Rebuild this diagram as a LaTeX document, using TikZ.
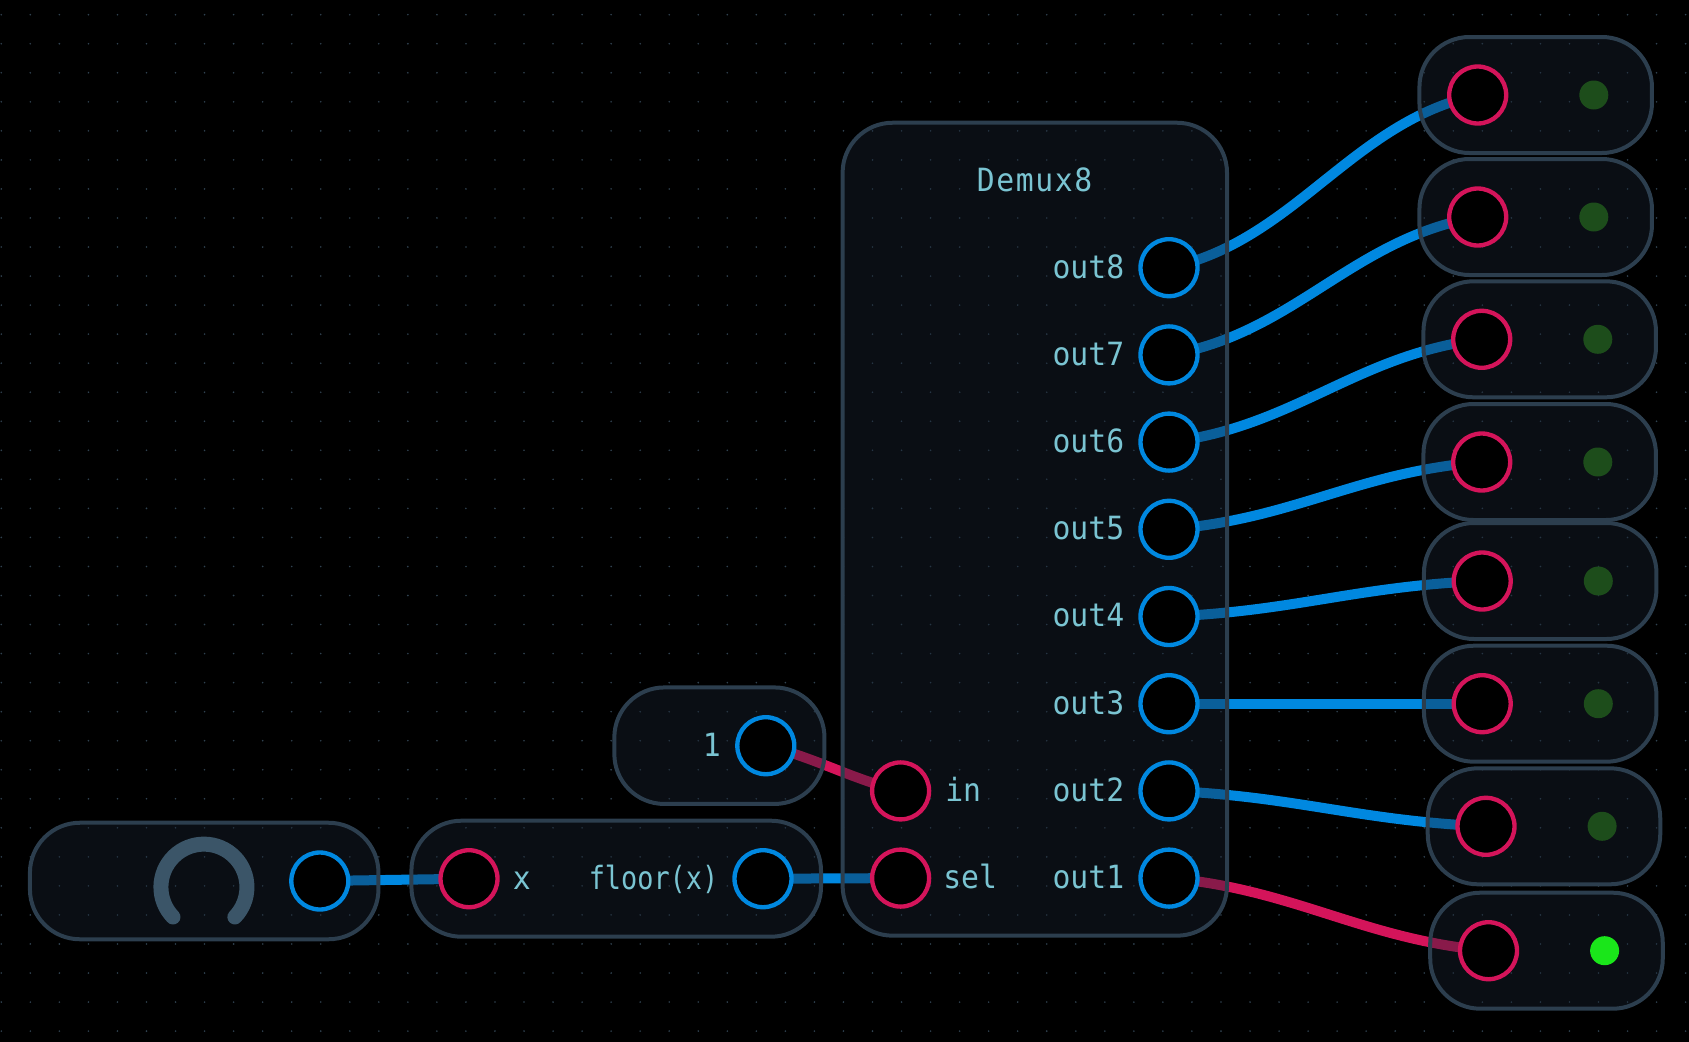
\documentclass[tikz,border=0pt]{standalone}
\usepackage{fontspec}
\newfontfamily\portfont[FakeStretch=0.93]{DejaVu Sans Mono}
\newfontfamily\floorfont[FakeStretch=0.84]{DejaVu Sans Mono}
\newfontfamily\titlefont[FakeStretch=0.93,LetterSpace=5]{DejaVu Sans Mono}
\usetikzlibrary{backgrounds}
\definecolor{boxfill}{RGB}{25,35,50}
\definecolor{boxline}{RGB}{44,62,78}
\definecolor{griddot}{RGB}{48,66,80}
\definecolor{portblue}{RGB}{0,136,224}
\definecolor{portred}{RGB}{212,20,90}
\definecolor{labelcol}{RGB}{122,196,210}
\definecolor{knobcol}{RGB}{59,85,104}
\definecolor{ledoff}{RGB}{29,77,27}
\definecolor{ledon}{RGB}{26,230,26}
\tikzset{
  modbox/.style={draw=boxline,line width=3pt,fill=boxfill,fill opacity=0.4,draw opacity=1,rounded corners=37.5pt,inner sep=0pt},
  ledbox/.style={modbox,minimum width=174.4pt,minimum height=87pt},
  outport/.style={circle,draw=portblue,fill=black,line width=3.25pt,minimum size=42.75pt,inner sep=0pt},
  inport/.style={circle,draw=portred,fill=black,line width=3.25pt,minimum size=42.75pt,inner sep=0pt},
  led/.style={circle,fill=#1,minimum size=21.75pt,inner sep=0pt},
  portlabel/.style={text=labelcol,font=\portfont\fontsize{24pt}{28pt}\selectfont,inner sep=0pt},
  wireblue/.style={draw=portblue,line width=7.5pt},
  wirered/.style={draw=portred,line width=7.5pt}
}
\begin{document}
\begin{tikzpicture}[x=0.75pt,y=0.75pt,yscale=-1,xscale=1]
\useasboundingbox (0,0) rectangle (1689,1042);

%Background and dots
\begin{pgfonlayer}{background}
\fill [black] (0,0) rectangle (1689,1042);
\foreach \i in {0,...,58} \foreach \j in {0,...,35}
  \fill [griddot] ({1.3+29.04*\i},{14.7+29.04*\j}) circle [radius=0.9];
\end{pgfonlayer}

%Knob box
\node [modbox,minimum width=261.4pt,minimum height=87.4pt] (knobbox) at (204.2,881) {};
\draw [knobcol,line width=11.25pt,line cap=round] (173,917) arc [start angle=136,end angle=404,radius=43];
\node [outport] (knobout) at (319.8,881) {};

%Floor box
\node [modbox,minimum width=307.2pt,minimum height=87pt] (floorbox) at (616.2,878.7) {};
\node [inport] (floorin) at (469,878.7) {};
\node [outport] (floorout) at (763,878.7) {};
\node [portlabel,anchor=mid west] (floorx) at (512.5,886.2) {x};
\node [portlabel,font=\floorfont\fontsize{24pt}{28pt}\selectfont,anchor=mid east] (floorname) at (718.5,886.2) {floor(x)};

%Constant box
\node [modbox,minimum width=157.6pt,minimum height=87.4pt] (constbox) at (719.4,745.7) {};
\node [outport] (constout) at (765.8,745.7) {};
\node [portlabel,anchor=mid east] (constval) at (721,753.2) {1};

%Demux box
\node [modbox,minimum width=288.3pt,minimum height=609.7pt] (demuxbox) at (1034.8,529.2) {};
\node [text=labelcol,font=\titlefont\fontsize{24pt}{28pt}\selectfont,inner sep=0pt,anchor=mid] (demuxname) at (1034.5,188.2) {Demux8};
\node [inport] (demuxin) at (900.6,790.9) {};
\node [inport] (demuxsel) at (900.6,878.1) {};
\node [portlabel,anchor=mid west] (inname) at (945,798.4) {in};
\node [portlabel,anchor=mid west] (selname) at (943,885.6) {sel};
\node [outport] (out8) at (1169,267.7) {};
\node [outport] (out7) at (1169,354.9) {};
\node [outport] (out6) at (1169,442.1) {};
\node [outport] (out5) at (1169,529.3) {};
\node [outport] (out4) at (1169,616.5) {};
\node [outport] (out3) at (1169,703.7) {};
\node [outport] (out2) at (1169,790.9) {};
\node [outport] (out1) at (1169,878.1) {};
\node [portlabel,anchor=mid east] (outname8) at (1124.5,275.2) {out8};
\node [portlabel,anchor=mid east] (outname7) at (1124.5,362.4) {out7};
\node [portlabel,anchor=mid east] (outname6) at (1124.5,449.6) {out6};
\node [portlabel,anchor=mid east] (outname5) at (1124.5,536.8) {out5};
\node [portlabel,anchor=mid east] (outname4) at (1124.5,624) {out4};
\node [portlabel,anchor=mid east] (outname3) at (1124.5,711.2) {out3};
\node [portlabel,anchor=mid east] (outname2) at (1124.5,798.4) {out2};
\node [portlabel,anchor=mid east] (outname1) at (1124.5,885.6) {out1};

%Light boxes
\node [ledbox] (ledbox1) at (1535.7,95) {};
\node [inport] (ledin1) at (1477.7,95) {};
\node [led=ledoff] (led1) at (1593.8,95) {};
\node [ledbox] (ledbox2) at (1535.7,217) {};
\node [inport] (ledin2) at (1477.7,217) {};
\node [led=ledoff] (led2) at (1593.8,217) {};
\node [ledbox] (ledbox3) at (1539.7,339.3) {};
\node [inport] (ledin3) at (1481.7,339.3) {};
\node [led=ledoff] (led3) at (1597.8,339.3) {};
\node [ledbox] (ledbox4) at (1539.7,462) {};
\node [inport] (ledin4) at (1481.7,462) {};
\node [led=ledoff] (led4) at (1597.8,462) {};
\node [ledbox] (ledbox5) at (1540.2,581) {};
\node [inport] (ledin5) at (1482.2,581) {};
\node [led=ledoff] (led5) at (1598.3,581) {};
\node [ledbox] (ledbox6) at (1540.2,703.7) {};
\node [inport] (ledin6) at (1482.2,703.7) {};
\node [led=ledoff] (led6) at (1598.3,703.7) {};
\node [ledbox] (ledbox7) at (1544,826.3) {};
\node [inport] (ledin7) at (1486,826.3) {};
\node [led=ledoff] (led7) at (1602.1,826.3) {};
\node [ledbox] (ledbox8) at (1546.5,950.7) {};
\node [inport] (ledin8) at (1488.5,950.7) {};
\node [led=ledon] (led8) at (1604.6,950.7) {};

%Wires
\begin{pgfonlayer}{background}
\draw [wireblue] (knobout.center) -- (floorin.center);
\draw [wireblue] (floorout.center) -- (demuxsel.center);
\draw [wirered] (constout.center) .. controls +(50,12) and +(-50,-12) .. (demuxin.center);
\draw [wireblue] (out8.center) .. controls +(125,-26) and +(-125,26) .. (ledin1.center);
\draw [wireblue] (out7.center) .. controls +(125,-21) and +(-125,21) .. (ledin2.center);
\draw [wireblue] (out6.center) .. controls +(125,-15) and +(-125,15) .. (ledin3.center);
\draw [wireblue] (out5.center) .. controls +(125,-10) and +(-125,10) .. (ledin4.center);
\draw [wireblue] (out4.center) .. controls +(125,-5) and +(-125,5) .. (ledin5.center);
\draw [wireblue] (out3.center) -- (ledin6.center);
\draw [wireblue] (out2.center) .. controls +(125,5) and +(-125,-5) .. (ledin7.center);
\draw [wirered] (out1.center) .. controls +(125,11) and +(-125,-11) .. (ledin8.center);
\end{pgfonlayer}

\end{tikzpicture}
\end{document}
